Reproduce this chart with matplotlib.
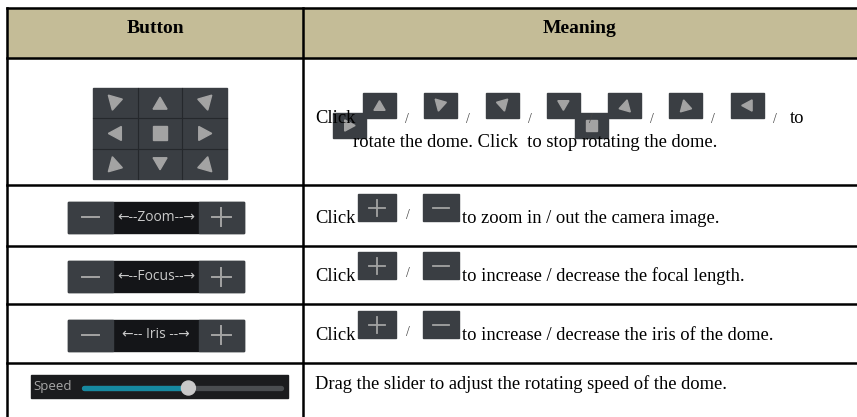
import matplotlib
matplotlib.use("Agg")
import matplotlib.pyplot as plt
from matplotlib.patches import Rectangle, Polygon, Circle

# table content
headers = ["Button", "Meaning"]
ptz_grid = [["ul", "up", "ur"],
            ["left", "stop", "right"],
            ["dl", "down", "dr"]]
lens_labels = ["\u2190--Zoom--\u2192", "\u2190--Focus--\u2192", "\u2190-- Iris --\u2192"]
row1_icons = ["up", "ul", "ur", "down", "dr", "dl", "left"]
row1_line2 = "rotate the dome. Click  to stop rotating the dome."
lens_meanings = ["to zoom in / out the camera image.",
                 "to increase / decrease the focal length.",
                 "to increase / decrease the iris of the dome."]
speed_label = "Speed"
speed_value = 0.53
speed_meaning = "Drag the slider to adjust the rotating speed of the dome."

# layout (pixels, y down)
W, H = 857, 417
row_lines = [7.5, 58, 185, 246, 304, 363]
col_x = [7, 303, 857]
HEADER_BG = "#c4bc97"
BTN_BG = "#3a3e43"
BTN_DARK = "#141518"
GLYPH = "#a3a3a3"
SERIF = "Liberation Serif"
FS = 13.3

# triangle shapes, unit offsets from the centre
SHAPES = {
    "up": [(0, -6), (-7, 6), (7, 6)],
    "down": [(0, 6), (-7, -6), (7, -6)],
    "left": [(-7, 0), (6, -7), (6, 7)],
    "right": [(7, 0), (-6, -7), (-6, 7)],
    "ul": [(-7, -8), (7, -4), (-3, 7)],
    "ur": [(7, -8), (-7, -4), (3, 7)],
    "dl": [(-7, 8), (7, 4), (-3, -7)],
    "dr": [(7, 8), (-7, 4), (3, -7)],
}


def glyph(ax, cx, cy, kind, s=1.0):
    if kind == "stop":
        ax.add_patch(Rectangle((cx - 7 * s, cy - 7 * s), 14 * s, 14 * s,
                               color=GLYPH, zorder=4))
    else:
        pts = [(cx + dx * s, cy + dy * s) for dx, dy in SHAPES[kind]]
        ax.add_patch(Polygon(pts, closed=True, color=GLYPH, zorder=4))


def small_icon(ax, x, y, kind, w=33, h=25):
    ax.add_patch(Rectangle((x, y), w, h, color=BTN_BG, zorder=3))
    cx, cy = x + w / 2, y + h / 2
    if kind in ("plus", "minus"):
        ax.plot([cx - 8, cx + 8], [cy, cy], color=GLYPH, lw=1.3, zorder=4)
        if kind == "plus":
            ax.plot([cx, cx], [cy - 8, cy + 8], color=GLYPH, lw=1.3, zorder=4)
    else:
        glyph(ax, cx, cy, kind, 0.8)


fig = plt.figure(figsize=(W / 100, H / 100), dpi=100)
ax = fig.add_axes([0, 0, 1, 1])
ax.set_xlim(0, W)
ax.set_ylim(H, 0)
ax.axis("off")

# header band and grid lines
ax.add_patch(Rectangle((col_x[0], row_lines[0]), col_x[2] - col_x[0],
                       row_lines[1] - row_lines[0], color=HEADER_BG, zorder=1))
for y in row_lines:
    ax.plot([col_x[0], W], [y, y], color="black", lw=1.8, zorder=5)
for x in col_x[:2]:
    ax.plot([x, x], [row_lines[0], H], color="black", lw=1.8, zorder=5)
for i, h in enumerate(headers):
    ax.text((col_x[i] + col_x[i + 1]) / 2, 33, h, ha="center", va="baseline",
            fontsize=14, fontweight="bold", family=SERIF)

# PTZ direction grid
gx, gy, cw, ch = 93, 88, 44.7, 30.3
ax.add_patch(Rectangle((gx, gy), cw * 3, ch * 3, color=BTN_BG, zorder=2))
for k in range(1, 3):
    ax.plot([gx + cw * k] * 2, [gy, gy + ch * 3], color="#25282c", lw=0.8, zorder=3)
    ax.plot([gx, gx + cw * 3], [gy + ch * k] * 2, color="#25282c", lw=0.8, zorder=3)
for r, row in enumerate(ptz_grid):
    for c, kind in enumerate(row):
        glyph(ax, gx + cw * (c + 0.5), gy + ch * (r + 0.5), kind)

# row 1 meaning
ax.text(315, 123, "Click", fontsize=FS, family=SERIF, va="baseline", zorder=6)
small_icon(ax, 333, 113, "right")
for i, kind in enumerate(row1_icons):
    x = 363 + i * 61.3
    small_icon(ax, x, 93, kind)
    ax.text(x + 42, 123, "/", fontsize=10, family=SERIF, va="baseline",
            color="#444444", zorder=6)
    if kind == "down":
        small_icon(ax, x + 28, 113, "stop")
ax.text(790, 123, "to", fontsize=FS, family=SERIF, va="baseline", zorder=6)
ax.text(353, 147, row1_line2, fontsize=FS, family=SERIF, va="baseline", zorder=6)

# zoom / focus / iris rows
for i, (lab, mean) in enumerate(zip(lens_labels, lens_meanings)):
    top, bot = row_lines[2 + i], row_lines[3 + i]
    wy = (top + bot) / 2 - 14
    ax.add_patch(Rectangle((68, wy), 176, 31, color=BTN_DARK, zorder=2))
    ax.add_patch(Rectangle((68, wy), 45, 31, color=BTN_BG, zorder=3))
    ax.add_patch(Rectangle((199, wy), 45, 31, color=BTN_BG, zorder=3))
    cy = wy + 15.5
    ax.plot([82, 99], [cy, cy], color=GLYPH, lw=1.4, zorder=4)
    ax.plot([212, 231], [cy, cy], color=GLYPH, lw=1.4, zorder=4)
    ax.plot([221.5, 221.5], [cy - 9, cy + 9], color=GLYPH, lw=1.4, zorder=4)
    ax.text(156, cy, lab, ha="center", va="center", fontsize=10,
            color="#c8c8c8", family=["Open Sans", "DejaVu Sans"], zorder=4)

    base = bot - 23
    ax.text(315, base, "Click", fontsize=FS, family=SERIF, va="baseline", zorder=6)
    small_icon(ax, 358, base - 29, "plus", w=38, h=27)
    ax.text(406, base - 4, "/", fontsize=10, family=SERIF, va="baseline",
            color="#444444", zorder=6)
    small_icon(ax, 423, base - 29, "minus", w=36, h=27)
    ax.text(462, base, mean, fontsize=FS, family=SERIF, va="baseline", zorder=6)

# speed slider row
ax.add_patch(Rectangle((31, 375), 257, 23, color="#1b1c1e", zorder=2))
ax.text(33, 386.5, speed_label, va="center", fontsize=9.5, color="#a8a8a8",
        family="Open Sans", zorder=4)
t0, t1 = 84, 281
ax.plot([t0, t1], [388, 388], color="#4a4d50", lw=3.8, solid_capstyle="round", zorder=3)
kx = t0 + speed_value * (t1 - t0)
ax.plot([t0, kx], [388, 388], color="#1689a0", lw=3.8, solid_capstyle="round", zorder=4)
ax.add_patch(Circle((kx, 388), 7, color="#c9c9c9", zorder=5))
ax.text(315, 389, speed_meaning, fontsize=FS, family=SERIF, va="baseline", zorder=6)

fig.savefig("out.png", dpi=100)
